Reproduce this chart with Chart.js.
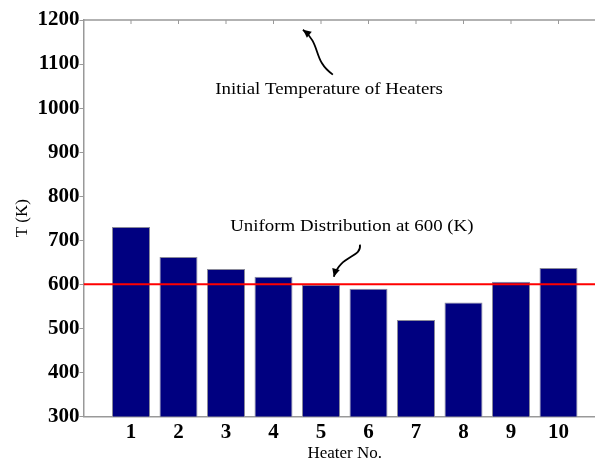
<!DOCTYPE html>
<html>
<head>
<meta charset="utf-8">
<script src="https://cdn.jsdelivr.net/npm/chart.js@4.4.1/dist/chart.umd.min.js"></script>
<style>
  html, body { margin: 0; padding: 0; background: #fff; overflow: hidden; }
  #wrap { width: 595px; height: 459px; overflow: hidden; }
  #heaterChart { display: block; }
</style>
</head>
<body>
<div id="wrap"><canvas id="heaterChart" width="610" height="459"></canvas></div>
<script>
// heater numbers and their temperatures (K)
var heaterNo = [1, 2, 3, 4, 5, 6, 7, 8, 9, 10];
var temps = [730, 662, 635, 617, 599, 590, 519, 559, 606, 637];
var uniformTemp = 600;
var yTicks = [300, 400, 500, 600, 700, 800, 900, 1000, 1100, 1200];

var serif = '"Liberation Serif", "Times New Roman", serif';

// notes with curved arrows, given in axis units (x = heater, y = K)
var notes = [
  { text: 'Initial Temperature of Heaters', at: [5.17, 1042],
    arrow: [[5.25, 1076], [4.81, 1110], [5.02, 1144], [4.62, 1178]] },
  { text: 'Uniform Distribution at 600 (K)', at: [5.65, 730],
    arrow: [[5.82, 690], [5.86, 660], [5.40, 667], [5.27, 617]] }
];

var barData = heaterNo.map(function(h, i){ return { x: h, y: temps[i] }; });
var lineData = [{ x: 0, y: uniformTemp }, { x: 11, y: uniformTemp }];

///////////////////////////////////////////////////////////////////////////
// box on top, top tick marks, and the text notes
///////////////////////////////////////////////////////////////////////////
var frameAndNotes = {
  id: 'frameAndNotes',
  afterDatasetsDraw: function(chart){
    var ctx = chart.ctx;
    var a = chart.chartArea;
    var xs = chart.scales.x, ys = chart.scales.y;
    ctx.save();
    ctx.strokeStyle = '#999999';
    ctx.lineWidth = 1.5;
    ctx.beginPath();
    ctx.moveTo(a.left, a.top);
    ctx.lineTo(a.right, a.top);
    ctx.stroke();
    ctx.lineWidth = 1;
    heaterNo.forEach(function(h){
      var px = xs.getPixelForValue(h);
      ctx.beginPath();
      ctx.moveTo(px, a.top);
      ctx.lineTo(px, a.top + 4);
      ctx.stroke();
    });

    ctx.fillStyle = '#000';
    ctx.strokeStyle = '#000';
    ctx.font = '16px ' + serif;
    ctx.textAlign = 'center';
    ctx.textBaseline = 'middle';
    notes.forEach(function(n){
      // the note text is a little wider than the plain font
      ctx.save();
      ctx.translate(xs.getPixelForValue(n.at[0]), ys.getPixelForValue(n.at[1]));
      ctx.scale(1.18, 1);
      ctx.fillText(n.text, 0, 0);
      ctx.restore();

      var p = n.arrow.map(function(q){ return [xs.getPixelForValue(q[0]), ys.getPixelForValue(q[1])]; });
      ctx.lineWidth = 1.8;
      ctx.beginPath();
      ctx.moveTo(p[0][0], p[0][1]);
      ctx.bezierCurveTo(p[1][0], p[1][1], p[2][0], p[2][1], p[3][0], p[3][1]);
      ctx.stroke();
      // arrow head along the last segment
      var ang = Math.atan2(p[3][1] - p[2][1], p[3][0] - p[2][0]);
      var len = 9, w = 0.45;
      ctx.beginPath();
      ctx.moveTo(p[3][0], p[3][1]);
      ctx.lineTo(p[3][0] - len * Math.cos(ang - w), p[3][1] - len * Math.sin(ang - w));
      ctx.lineTo(p[3][0] - len * Math.cos(ang + w), p[3][1] - len * Math.sin(ang + w));
      ctx.closePath();
      ctx.fill();
    });
    ctx.restore();
  }
};

var ctx = document.getElementById('heaterChart').getContext('2d');
var chart = new Chart(ctx, {
  type: 'bar',
  data: {
    datasets: [{
      type: 'line',
      data: lineData,
      borderColor: '#ff0000',
      borderWidth: 2,
      pointRadius: 0,
      order: 0
    }, {
      type: 'bar',
      data: barData,
      backgroundColor: '#000080',
      borderColor: '#8a8a9a',
      borderWidth: 1,
      barPercentage: 0.8,
      categoryPercentage: 1,
      order: 1
    }]
  },
  options: {
    responsive: false,
    animation: false,
    layout: { padding: { top: 20, right: 4, left: 0, bottom: 0 } },
    plugins: { legend: { display: false }, tooltip: { enabled: false } },
    scales: {
      x: {
        type: 'linear',
        offset: false,
        min: 0,
        max: 11,
        grid: { display: false },
        border: { color: '#999999', width: 1.5 },
        ticks: {
          stepSize: 1,
          autoSkip: false,
          maxRotation: 0,
          padding: -2,
          color: '#000',
          font: { family: serif, size: 21, weight: 'bold', lineHeight: 1 },
          callback: function(v){ return heaterNo.indexOf(v) >= 0 ? String(v) : ''; }
        },
        title: {
          display: true,
          text: 'Heater No.',
          color: '#000',
          font: { family: serif, size: 17, lineHeight: 1 },
          padding: { top: 0, bottom: -3 }
        },
        afterFit: function(s){ s.height = 42.5; }
      },
      y: {
        min: 300,
        max: 1200,
        afterBuildTicks: function(s){ s.ticks = yTicks.map(function(v){ return { value: v }; }); },
        grid: { drawOnChartArea: false, drawTicks: true, tickLength: 4, color: '#999999' },
        border: { color: '#999999', width: 1.5 },
        ticks: {
          padding: 0,
          color: '#000',
          font: { family: serif, size: 21, weight: 'bold' },
          callback: function(v){ return String(v); }
        },
        title: {
          display: true,
          text: 'T (K)',
          color: '#000',
          font: { family: serif, size: 17 },
          padding: { top: 12, bottom: 0 }
        },
        afterFit: function(s){ s.width = 83.5; }
      }
    }
  },
  plugins: [frameAndNotes]
});
</script>
</body>
</html>
